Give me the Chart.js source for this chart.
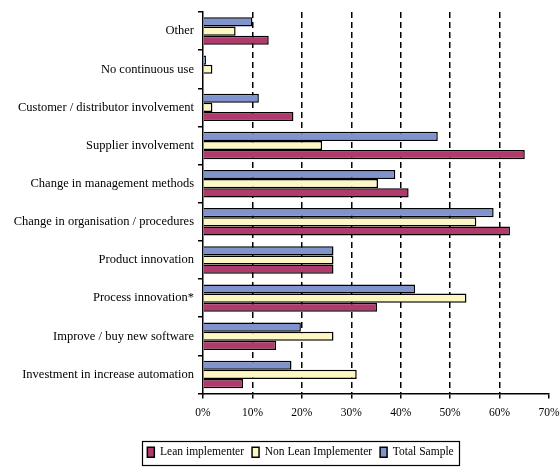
<!DOCTYPE html>
<html>
<head>
<meta charset="utf-8">
<script src="https://cdn.jsdelivr.net/npm/chart.js@4/dist/chart.umd.min.js"></script>
<style>
  html, body { margin: 0; padding: 0; background: #fff; }
  #wrap { width: 560px; height: 468px; }
</style>
</head>
<body>
<div id="wrap"><canvas id="chart"></canvas></div>
<script>
const categories = [
	"Other",
	"No continuous use",
	"Customer / distributor involvement",
	"Supplier involvement",
	"Change in management methods",
	"Change in organisation / procedures",
	"Product innovation",
	"Process innovation*",
	"Improve / buy new software",
	"Investment in increase automation",
];

// percentages per category, same order as above
const totalSample = [10, 0.6, 11.3, 47.5, 38.9, 58.8, 26.4, 42.9, 19.8, 17.9];
const nonLean = [6.6, 1.9, 1.9, 24.1, 35.4, 55.3, 26.4, 53.3, 26.4, 31.1];
const lean = [13.3, 0, 18.3, 65.1, 41.6, 62.1, 26.4, 35.2, 14.8, 8.1];

const xTicks = [0, 10, 20, 30, 40, 50, 60, 70];

const serif = "'Liberation Serif', 'DejaVu Serif', serif";

// legend sits a bit right of centre and gets a thin box round its items
const legendFrame = {
	id: "legendFrame",
	afterLayout(chart) {
		const lg = chart.legend;
		lg.left += 22;
		lg.right += 22;
	},
	afterDraw(chart) {
		const lg = chart.legend;
		const boxes = lg.legendHitBoxes;
		if (!boxes || !boxes.length) return;
		const x0 = Math.min(...boxes.map((b) => b.left)) - 5;
		const x1 = Math.max(...boxes.map((b) => b.left + b.width)) + 6;
		const y0 = boxes[0].top - 6;
		const y1 = boxes[0].top + boxes[0].height + 6;
		const ctx = chart.ctx;
		ctx.save();
		ctx.strokeStyle = "#000";
		ctx.lineWidth = 1.2;
		ctx.strokeRect(Math.round(x0) + 0.5, Math.round(y0) + 0.5, Math.round(x1 - x0), Math.round(y1 - y0));
		ctx.restore();
	},
};

new Chart(document.querySelector("#chart"), {
	type: "bar",
	data: {
		labels: categories,
		datasets: [
			{ label: "Total Sample", data: totalSample, backgroundColor: "#8193cc" },
			{ label: "Non Lean Implementer", data: nonLean, backgroundColor: "#fdf7c4" },
			{ label: "Lean implementer", data: lean, backgroundColor: "#b13a6d" },
		],
	},
	options: {
		indexAxis: "y",
		responsive: true,
		maintainAspectRatio: false,
		animation: false,
		datasets: {
			bar: {
				borderColor: "#000",
				borderWidth: 1.5,
				barPercentage: 1,
				categoryPercentage: 0.72,
			},
		},
		layout: { padding: { left: 0, right: 3, top: 12, bottom: 0 } },
		plugins: {
			tooltip: { enabled: false },
			legend: {
				position: "bottom",
				reverse: true,
				labels: {
					color: "#000",
					font: { family: serif, size: 11.5 },
					boxWidth: 7,
					boxHeight: 10,
					padding: 8,
				},
			},
		},
		scales: {
			x: {
				min: 0,
				max: 70,
				afterBuildTicks(scale) {
					scale.ticks = xTicks.map((v) => ({ value: v }));
				},
				afterFit(scale) {
					scale.height = 45;
					// let the last label hang near the edge
					scale.paddingRight = 11;
				},
				ticks: {
					color: "#000",
					font: { family: serif, size: 11.5 },
					padding: 8,
					callback: (v) => v + "%",
				},
				grid: {
					color: (c) => (c.index === 0 || c.index === 7 ? "transparent" : "#000"),
					lineWidth: 1.5,
					tickColor: "#000",
					tickLength: 5,
					tickBorderDash: [],
				},
				border: { display: true, color: "#000", width: 1.5, dash: [6, 4] },
			},
			y: {
				afterFit(scale) {
					scale.width = 203;
				},
				ticks: {
					color: "#000",
					font: { family: serif, size: 12.5 },
					padding: 4,
				},
				grid: {
					offset: true,
					drawOnChartArea: false,
					color: "#000",
					tickLength: 5,
					lineWidth: 1.5,
				},
				border: { display: true, color: "#000", width: 1.5 },
			},
		},
	},
	plugins: [legendFrame],
});
</script>
</body>
</html>
